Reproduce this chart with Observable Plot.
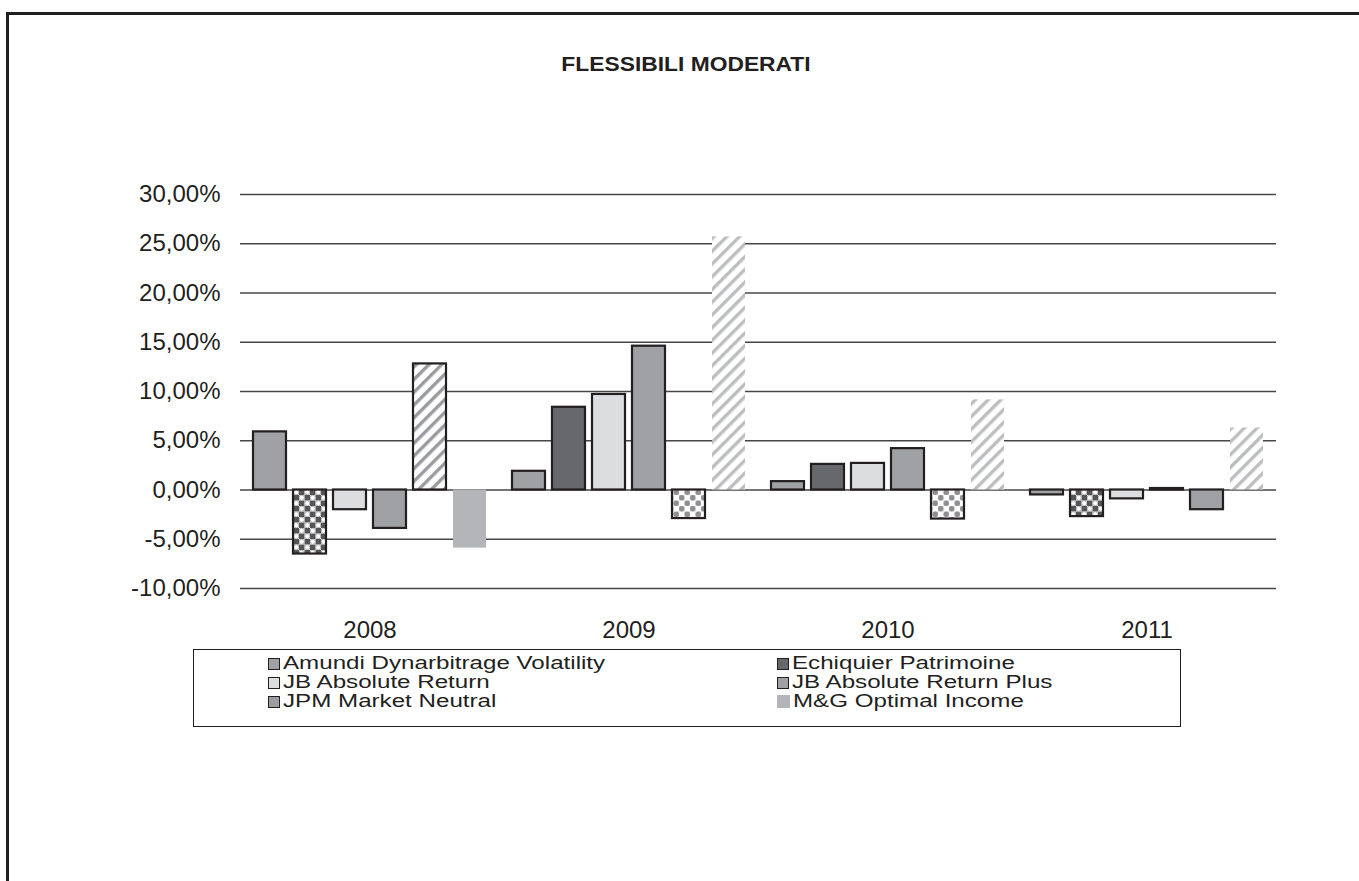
<!DOCTYPE html>
<html><head><meta charset="utf-8">
<script src="https://cdn.jsdelivr.net/npm/d3@7"></script>
<script src="https://cdn.jsdelivr.net/npm/@observablehq/plot@0.6"></script>
<style>
html,body{margin:0;padding:0;background:#fff;overflow:hidden;}
#wrap{position:relative;width:1359px;height:881px;font-family:"Liberation Sans",Arial,sans-serif;color:#231f20;overflow:hidden;}
#frame{position:absolute;left:6px;top:12px;width:1400px;height:900px;border-left:3px solid #231f20;border-top:3px solid #231f20;box-sizing:border-box;pointer-events:none;}
#title{position:absolute;left:686px;top:54px;transform:translateX(-50%) scaleX(1.17);font-weight:bold;font-size:19.5px;line-height:20px;white-space:nowrap;}
#chart{position:absolute;left:0;top:0;}
#legend{position:absolute;left:193px;top:649px;width:988px;height:78px;border:1px solid #231f20;box-sizing:border-box;background:#fff;}
.item{position:absolute;height:19px;display:flex;align-items:center;white-space:nowrap;}
.sw{width:10px;height:10px;border:1.5px solid #231f20;margin-right:3px;flex:none;}
.lab{font-size:17.5px;line-height:19px;transform:scaleX(1.38);transform-origin:left center;}
</style>
</head><body>
<div id="wrap">
  <div id="chart"></div>
  <div id="title">FLESSIBILI MODERATI</div>
  <div id="legend"></div>
  <div id="frame"></div>
</div>
<script>
// ---- data ----
const years = ["2008", "2009", "2010", "2011"];
const seriesNames = [
  "Amundi Dynarbitrage Volatility",
  "Echiquier Patrimoine",
  "JB Absolute Return",
  "JB Absolute Return Plus",
  "JPM Market Neutral",
  "M&G Optimal Income"
];
const amundi = [5.9, 1.9, 0.85, -0.5];
const echiquier = [-6.5, 8.4, 2.6, -2.7];
const jbAbsoluteReturn = [-2.0, 9.7, 2.7, -0.9];
const jbAbsoluteReturnPlus = [-3.9, 14.6, 4.2, 0.15];
const jpmMarketNeutral = [12.8, -2.9, -2.95, -2.0];
const mgOptimalIncome = [-5.9, 25.7, 9.15, 6.3];
const yTicks = [-10, -5, 0, 5, 10, 15, 20, 25, 30];

// ---- styles (separate from data) ----
const barStyleKeys = {
  "2008": ["gray", "checkerDark", "light", "gray", "hatchDark", "mg"],
  "2009": ["gray", "dark", "light", "gray", "checkerLight", "hatchLight"],
  "2010": ["gray", "dark", "light", "gray", "checkerLight", "hatchLight"],
  "2011": ["gray", "checkerDark", "light", "gray", "gray", "hatchLight"]
};
const styleFill = {
  gray: "#a0a1a4", dark: "#67686b", light: "#dcdddf", mg: "#b4b5b8",
  checkerDark: "url(#checkerDark)", checkerLight: "url(#checkerLight)",
  hatchDark: "url(#hatchDark)", hatchLight: "url(#hatchLight)"
};
const noBorder = new Set(["mg", "hatchLight"]);
const legendFill = ["#a0a1a4", "#67686b", "#dcdddf", "#a0a1a4", "#9c9da0", "#b4b5b8"];

const values = [amundi, echiquier, jbAbsoluteReturn, jbAbsoluteReturnPlus, jpmMarketNeutral, mgOptimalIncome];
const data = [];
years.forEach((yr, j) => seriesNames.forEach((s, i) => {
  data.push({year: yr, series: s, value: values[i][j], key: barStyleKeys[yr][i]});
}));

const fmt = d => d.toFixed(2).replace(".", ",") + "%";

const chart = Plot.plot({
  width: 1359,
  height: 881,
  marginLeft: 238,
  marginRight: 82,
  marginTop: 194,
  marginBottom: 293,
  style: {fontFamily: "'Liberation Sans', Arial, sans-serif", fontSize: "24px", color: "#231f20", background: "transparent"},
  fx: {domain: years, padding: 0, label: null, tickSize: 0, tickPadding: 32},
  x: {domain: seriesNames, paddingInner: 0.187, paddingOuter: 0.29, axis: null},
  y: {domain: [-10, 30], ticks: yTicks, tickFormat: fmt, tickSize: 0, tickPadding: 20, label: null},
  color: {type: "identity"},
  marks: [
    Plot.gridY(yTicks, {stroke: "#474747", strokeOpacity: 1, strokeWidth: 1.3}),
    Plot.barY(data, {
      fx: "year", x: "series", y: "value",
      fill: d => styleFill[d.key],
      stroke: d => noBorder.has(d.key) ? "none" : "#231f20",
      strokeWidth: 2.2
    })
  ]
});
document.getElementById("chart").appendChild(chart);

// patterns
const defs = d3.select(chart).insert("defs", ":first-child");
function hatch(id, color) {
  const p = defs.append("pattern").attr("id", id).attr("patternUnits", "userSpaceOnUse")
    .attr("width", 9).attr("height", 9).attr("patternTransform", "rotate(45)");
  p.append("rect").attr("width", 9).attr("height", 9).attr("fill", "#fff");
  p.append("rect").attr("width", 3.4).attr("height", 9).attr("fill", color);
}
hatch("hatchDark", "#9a9b9e");
hatch("hatchLight", "#bdbec0");
{
  const p = defs.append("pattern").attr("id", "checkerDark").attr("patternUnits", "userSpaceOnUse")
    .attr("width", 11).attr("height", 11);
  p.append("rect").attr("width", 11).attr("height", 11).attr("fill", "#fff");
  p.append("rect").attr("x", 5.5).attr("y", 0).attr("width", 5.5).attr("height", 5.5).attr("fill", "#555558");
  p.append("rect").attr("x", 0).attr("y", 5.5).attr("width", 5.5).attr("height", 5.5).attr("fill", "#555558");
  p.append("circle").attr("cx", 2.75).attr("cy", 2.75).attr("r", 2.6).attr("fill", "#fff").attr("stroke", "#9a9a9a").attr("stroke-width", 0.8);
  p.append("circle").attr("cx", 8.25).attr("cy", 8.25).attr("r", 2.6).attr("fill", "#fff").attr("stroke", "#9a9a9a").attr("stroke-width", 0.8);
}
{
  const p = defs.append("pattern").attr("id", "checkerLight").attr("patternUnits", "userSpaceOnUse")
    .attr("width", 11).attr("height", 11);
  p.append("rect").attr("width", 11).attr("height", 11).attr("fill", "#d4d4d6");
  p.append("rect").attr("x", 5.5).attr("y", 0).attr("width", 5.5).attr("height", 5.5).attr("fill", "#fff");
  p.append("rect").attr("x", 0).attr("y", 5.5).attr("width", 5.5).attr("height", 5.5).attr("fill", "#fff");
  p.append("circle").attr("cx", 2.75).attr("cy", 2.75).attr("r", 2.7).attr("fill", "#8f8f92");
  p.append("circle").attr("cx", 8.25).attr("cy", 8.25).attr("r", 2.7).attr("fill", "#8f8f92");
}

// legend
const legend = document.getElementById("legend");
const colX = [74, 583];
const rowY = [4, 23, 42];
seriesNames.forEach((s, i) => {
  const it = document.createElement("div");
  it.className = "item";
  it.style.left = colX[i % 2] + "px";
  it.style.top = rowY[Math.floor(i / 2)] + "px";
  const sw = document.createElement("div");
  sw.className = "sw";
  sw.style.background = legendFill[i];
  if (i === 5) { sw.style.border = "none"; sw.style.width = "13px"; sw.style.height = "13px"; }
  const lab = document.createElement("span");
  lab.className = "lab";
  lab.textContent = s;
  it.appendChild(sw); it.appendChild(lab);
  legend.appendChild(it);
});
</script>
</body></html>
